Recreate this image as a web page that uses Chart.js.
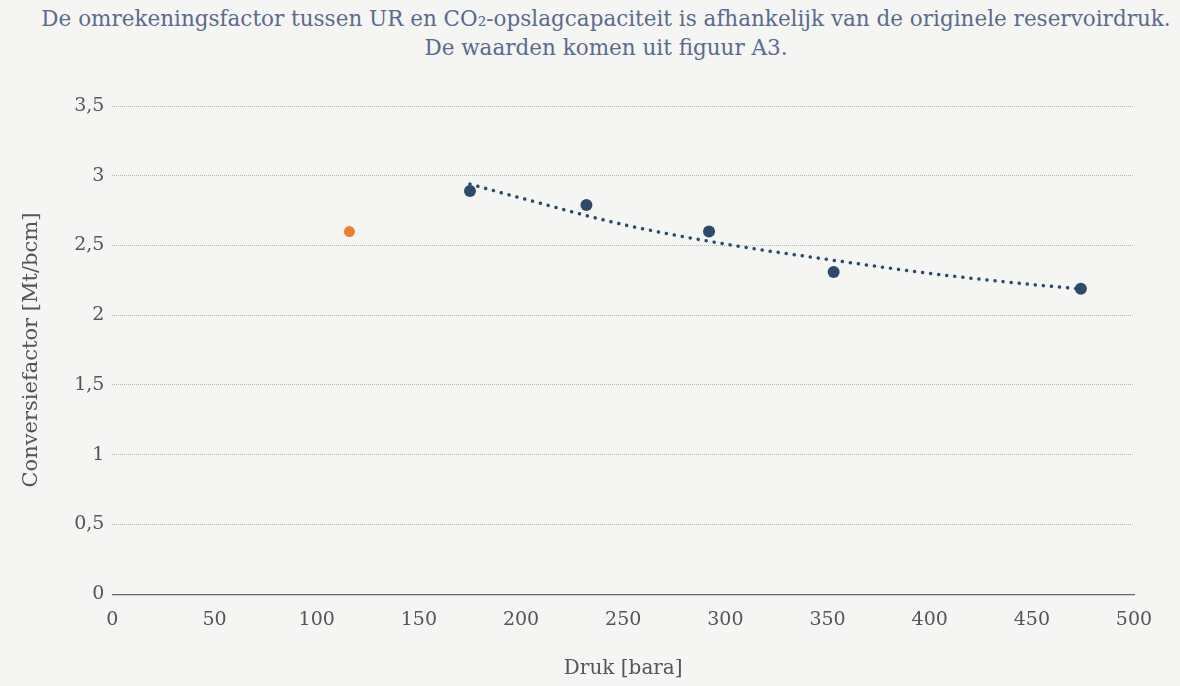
<!DOCTYPE html>
<html>
<head>
<meta charset="utf-8">
<script src="https://cdn.jsdelivr.net/npm/chart.js@4"></script>
<style>
  html, body { margin: 0; padding: 0; background: #f5f5f3; }
  #title {
    position: absolute; left: 0; top: 4px; width: 1212px;
    text-align: center; color: #5b6b8c;
    font-family: 'DejaVu Serif', serif; font-size: 21.5px; line-height: 29px;
  }
  #wrap { position: absolute; left: 0; top: 62px; width: 1180px; height: 624px; }
</style>
</head>
<body>
<div id="title">De omrekeningsfactor tussen UR en CO₂-opslagcapaciteit is afhankelijk van de originele reservoirdruk.<br>De waarden komen uit figuur A3.</div>
<div id="wrap"><canvas id="chart"></canvas></div>
<script>
const druk = [175, 232, 292, 353, 474];
const factor = [2.89, 2.79, 2.6, 2.31, 2.19];
const extraDruk = [116];
const extraFactor = [2.6];
// trendline
const trendDruk = [175, 200, 250, 300, 350, 400, 450, 473];
const trendFactor = [2.94, 2.84, 2.65, 2.51, 2.4, 2.3, 2.22, 2.19];

const serif = "'DejaVu Serif', serif";
const toXY = (xs, ys) => xs.map((x, i) => ({ x: x, y: ys[i] }));

new Chart(document.getElementById("chart"), {
  type: "scatter",
  data: {
    datasets: [
      {
        type: "line",
        data: toXY(trendDruk, trendFactor),
        borderColor: "#2e4a6b",
        borderWidth: 3.5,
        borderDash: [0.1, 8],
        borderCapStyle: "round",
        pointRadius: 0,
        tension: 0.4,
        cubicInterpolationMode: "monotone",
        fill: false,
      },
      {
        data: toXY(druk, factor),
        backgroundColor: "#2e4a6b",
        borderWidth: 0,
        pointRadius: 6,
      },
      {
        data: toXY(extraDruk, extraFactor),
        backgroundColor: "#ed7d31",
        borderWidth: 0,
        pointRadius: 5.5,
      },
    ],
  },
  options: {
    responsive: true,
    maintainAspectRatio: false,
    animation: false,
    layout: { padding: { left: 15, right: 46, top: 44, bottom: 1 } },
    plugins: {
      legend: { display: false },
      tooltip: { enabled: false },
    },
    scales: {
      x: {
        min: 0,
        max: 500,
        ticks: { stepSize: 50, color: "#555", font: { family: serif, size: 19 }, padding: 14 },
        grid: { display: false, drawTicks: false },
        border: { display: true, color: "#666", width: 1.2 },
        title: {
          display: true,
          text: "Druk [bara]",
          color: "#555",
          font: { family: serif, size: 20 },
          padding: { top: 12 },
        },
      },
      y: {
        min: 0,
        max: 3.5,
        ticks: {
          stepSize: 0.5,
          color: "#555",
          font: { family: serif, size: 19 },
          padding: 8,
          callback: (v) => String(v).replace(".", ","),
        },
        grid: {
          drawTicks: false,
          color: (ctx) => (ctx.tick && ctx.tick.value === 0 ? "rgba(0,0,0,0)" : "#b4b4b4"),
          lineWidth: 1,
        },
        border: { display: false, dash: [1, 1] },
        title: {
          display: true,
          text: "Conversiefactor [Mt/bcm]",
          color: "#555",
          font: { family: serif, size: 21 },
          padding: { bottom: 22 },
        },
      },
    },
  },
});
</script>
</body>
</html>
